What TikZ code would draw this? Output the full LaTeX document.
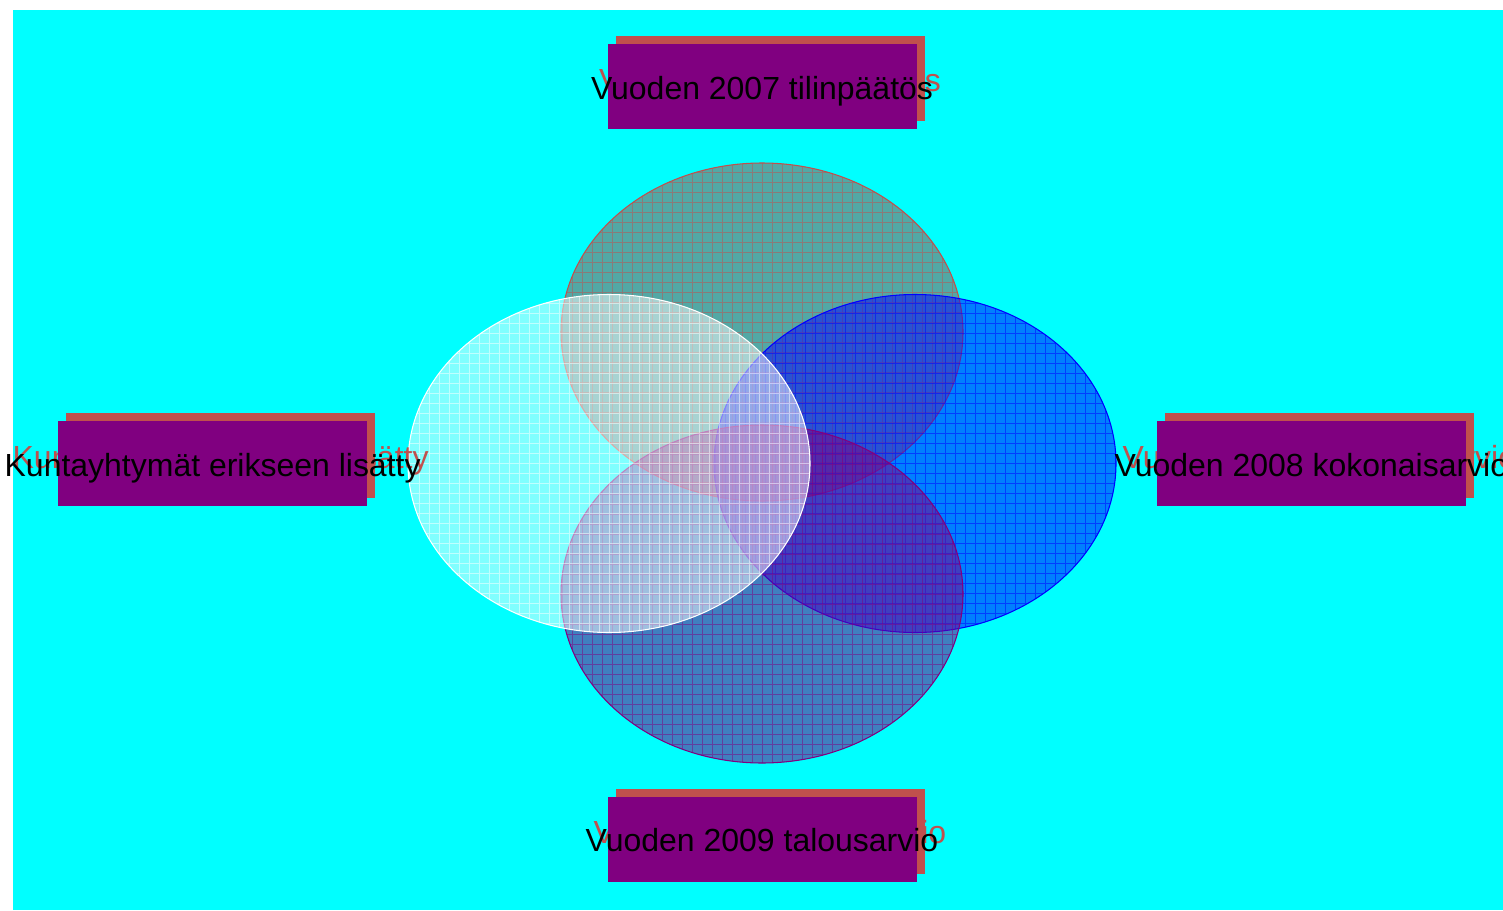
\documentclass[tikz,border=0pt]{standalone}
\usepackage{fontspec}
\setmainfont{Liberation Sans}
\usetikzlibrary{positioning,shapes.geometric}

\definecolor{shadowred}{HTML}{C0504D}
\definecolor{boxpurple}{HTML}{800080}
\definecolor{bgcyan}{HTML}{00FFFF}
\definecolor{tealgray}{HTML}{6E8C87}

\newcommand{\lbltext}[1]{\smash{\raisebox{-0.25cm}{\makebox[0pt][c]{#1}}}}

\tikzset{
  blob/.style n args={3}{ellipse, inner sep=0pt, minimum width=8.04cm, minimum height=6.76cm,
    draw=#2, line width=0.6pt, fill=#1, fill opacity=#3,
    path picture={\draw[#2, line width=0.25pt, draw opacity=0.5, step=0.2cm]
      (path picture bounding box.south west) grid (path picture bounding box.north east);}},
  labelbox/.style={fill=boxpurple, inner sep=0pt, minimum width=6.18cm, minimum height=1.7cm,
    text=black, font=\fontsize{18.2}{22}\selectfont},
  shadowbox/.style={labelbox, fill=shadowred, text=shadowred, xshift=0.16cm, yshift=0.16cm}
}

\begin{document}
\begin{tikzpicture}[node distance=0.66cm and 0.8cm]
\useasboundingbox (0,0) rectangle (30.06,18.2);
\fill[white] (0,0) rectangle (30.06,18.2);
\fill[bgcyan] (0.26,0) rectangle (30.06,18.0);

% the four overlapping ellipses
\coordinate (o) at (15.24,8.93);
\node (top)    [blob={tealgray}{shadowred}{0.75}] at ([yshift=2.63cm]o) {};
\node (right)  [blob={blue}{blue}{0.5}]           at ([xshift=3.06cm]o) {};
\node (bottom) [blob={boxpurple}{boxpurple}{0.5}] at ([yshift=-2.61cm]o) {};
\node (left)   [blob={white}{white}{0.5}]         at ([xshift=-3.06cm]o) {};

% labels with their shadows
\node (shtop) [shadowbox, above=of top] {\lbltext{Vuoden 2007 tilinpäätös}};
\node (lbltop) [labelbox, above=of top] {\lbltext{Vuoden 2007 tilinpäätös}};

\node (shright) [shadowbox, right=of right] {\lbltext{Vuoden 2008 kokonaisarvio}};
\node (lblright) [labelbox, right=of right] {\lbltext{Vuoden 2008 kokonaisarvio}};

\node (shbottom) [shadowbox, below=of bottom] {\lbltext{Vuoden 2009 talousarvio}};
\node (lblbottom) [labelbox, below=of bottom] {\lbltext{Vuoden 2009 talousarvio}};

\node (shleft) [shadowbox, left=of left] {\lbltext{Kuntayhtymät erikseen lisätty}};
\node (lblleft) [labelbox, left=of left] {\lbltext{Kuntayhtymät erikseen lisätty}};
\end{tikzpicture}
\end{document}
